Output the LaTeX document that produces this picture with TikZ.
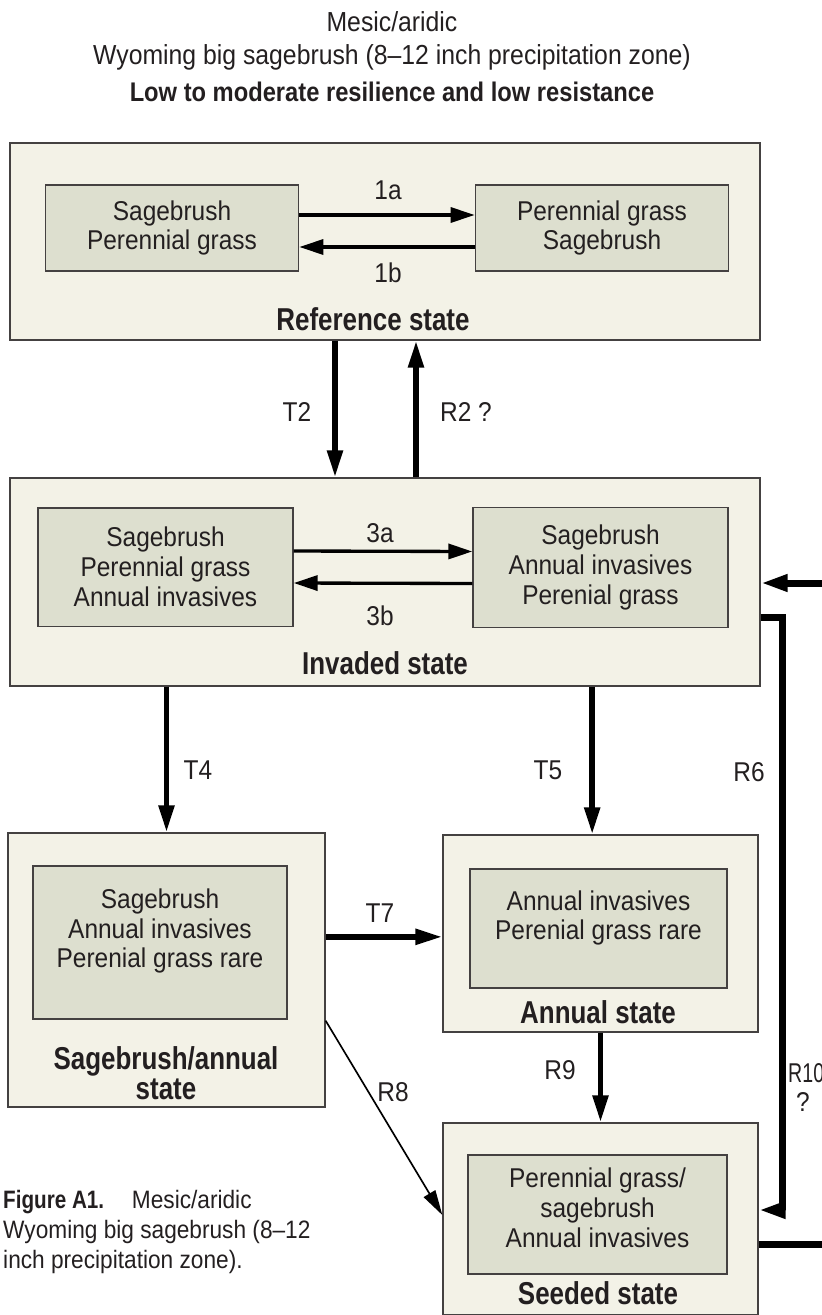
\documentclass[tikz,border=0pt]{standalone}
\usepackage{fontspec}
\setmainfont{Liberation Sans}[FakeStretch=0.9,BoldFeatures={FakeStretch=0.82}]
\newfontface\titlebold{Liberation Sans Bold}[FakeStretch=0.88]
\usetikzlibrary{arrows.meta,positioning}

\definecolor{statefill}{HTML}{F3F2E7}
\definecolor{phasefill}{HTML}{DDDFCF}
\definecolor{ink}{HTML}{231F20}

\newcommand\bodyfont{\fontsize{23.2}{25.4}\selectfont}
\newcommand\statefont{\fontsize{27}{25.6}\selectfont\bfseries}
\newcommand\capfont{\fontsize{21.5}{25.5}\selectfont}

\begin{document}
\begin{tikzpicture}[x=0.03cm, y=-0.03cm, font=\bodyfont, text=ink,
    state/.style={draw=ink!85, fill=statefill, line width=0.04cm, inner sep=0pt},
    phase/.style={draw=ink!85, fill=phasefill, line width=0.04cm, inner sep=0pt},
    body/.style={align=center, inner sep=0pt},
    statename/.style={font=\statefont, align=center, inner sep=0pt},
    lbl/.style={inner sep=0pt},
    phaseshift/.style={-{Triangle[length=0.72cm,width=0.45cm]}, line width=0.1cm},
    trans/.style={-{Triangle[length=0.81cm,width=0.45cm]}, line width=0.165cm},
    restore/.style={-{Triangle[length=0.81cm,width=0.48cm]}, line width=0.21cm},
    restoreline/.style={line width=0.21cm},
    seeding/.style={-{Triangle[length=0.75cm,width=0.4cm]}, line width=0.05cm}
]
    \useasboundingbox (0,0) rectangle (822,1315);

    % title
    \node[lbl, font=\fontsize{23.5}{26}\selectfont] (ttl1) at (392,22) {Mesic/aridic};
    \node[lbl, font=\fontsize{23.5}{26}\selectfont] (ttl2) at (392,57) {Wyoming big sagebrush (8--12 inch precipitation zone)};
    \node[lbl, font=\fontsize{23}{26}\titlebold] (ttl3) at (392,92) {Low to moderate resilience and low resistance};

    % states
    \node[state, minimum width=22.5cm, minimum height=5.91cm] (ref) at (385,241.5) {};
    \node[state, minimum width=22.5cm, minimum height=6.24cm] (inv) at (385,582) {};
    \node[state, minimum width=9.51cm, minimum height=8.22cm] (sage) at (166.5,970) {};
    \node[state, minimum width=9.45cm, minimum height=5.91cm] (ann) at (600.5,933.5) {};
    \node[state, minimum width=9.45cm, minimum height=5.76cm] (seed) at (600.5,1219) {};

    % phases
    \node[phase, body, minimum width=7.6cm, minimum height=2.58cm] (refA) at (172,228) {Sagebrush\\Perennial grass};
    \node[phase, body, minimum width=7.6cm, minimum height=2.58cm] (refB) at (602,228) {Perennial grass\\Sagebrush};
    \node[phase, body, minimum width=7.65cm, minimum height=3.55cm] (invA) at (165.5,567) {Sagebrush\\Perennial grass\\Annual invasives};
    \node[phase, body, minimum width=7.65cm, minimum height=3.6cm] (invB) at (600.5,567.5) {Sagebrush\\Annual invasives\\Perenial grass};
    \node[phase, minimum width=7.62cm, minimum height=4.59cm] (sageIn) at (160,942.5) {};
    \node[body] (sageTx) at (160,931) {Sagebrush\\Annual invasives\\Perenial grass rare};
    \node[phase, minimum width=7.71cm, minimum height=3.57cm] (annIn) at (598.5,928.5) {};
    \node[body] (annTx) at (598.5,918) {Annual invasives\\Perenial grass rare};
    \node[phase, minimum width=7.77cm, minimum height=3.57cm] (seedIn) at (597.5,1214.5) {};
    \node[body] (seedTx) at (597.5,1208) {Perennial grass/\\sagebrush\\Annual invasives};

    % state names
    \node[statename] (refN) at (373,319) {Reference state};
    \node[statename] (invN) at (385,663) {Invaded state};
    \node[statename] (sageN) at (166,1073) {Sagebrush/annual\\state};
    \node[statename] (annN) at (598,1012) {Annual state};
    \node[statename] (seedN) at (598,1293) {Seeded state};

    % community shifts
    \draw[phaseshift] ([yshift=0.39cm]refA.east) -- ([yshift=0.39cm]refB.west);
    \draw[phaseshift] ([yshift=-0.57cm]refB.west) -- ([yshift=-0.57cm]refA.east);
    \draw[phaseshift] ([yshift=0.48cm]invA.east) -- ([yshift=0.48cm]invB.west);
    \draw[phaseshift] ([yshift=-0.48cm]invB.west) -- ([yshift=-0.48cm]invA.east);

    % transitions and restoration
    \coordinate (t5) at ([xshift=-0.25cm]ann.north);
    \coordinate (t7) at ([yshift=-0.1cm]ann.west);
    \coordinate (r10) at (782,900);
    \coordinate (r6in) at (822,583);
    \coordinate (r6out) at (822,1244);

    \draw[trans] ([xshift=-1.5cm]ref.south) -- ([xshift=-1.5cm]inv.north);
    \draw[trans] ([xshift=0.93cm]inv.north) -- ([xshift=0.93cm]ref.south);
    \draw[trans] (inv.south -| sage.north) -- (sage.north);
    \draw[trans] (inv.south -| t5) -- (t5);
    \draw[trans] (sage.east |- t7) -- (t7);
    \draw[trans] (ann.south) -- (seed.north);
    \draw[seeding] ([yshift=2.61cm]sage.south east) -- ([yshift=0.12cm]seed.west);
    \draw[restore] (r6in) -- (inv.east |- r6in);
    \draw[restore] ([yshift=-1.05cm]inv.east) -| (r10) |- ([yshift=0.27cm]seed.east);
    \draw[restoreline] (seed.east |- r6out) -- (r6out);

    % labels
    \node[lbl] (l1a) at (388,190) {1a};
    \node[lbl] (l1b) at (388,273) {1b};
    \node[lbl] (lT2) at (297,412) {T2};
    \node[lbl] (lR2) at (466,412) {R2 ?};
    \node[lbl] (l3a) at (380,533) {3a};
    \node[lbl] (l3b) at (380,616) {3b};
    \node[lbl] (lT4) at (198,770) {T4};
    \node[lbl] (lT5) at (548,770) {T5};
    \node[lbl] (lR6) at (749,772) {R6};
    \node[lbl] (lT7) at (380,913) {T7};
    \node[lbl] (lR8) at (393,1092) {R8};
    \node[lbl] (lR9) at (560,1070) {R9};
    \node[lbl, anchor=west] (lR10) at (788,1073) {\scalebox{0.8}[1]{R10}};
    \node[lbl] (lR10q) at (803,1102) {?};

    % caption
    \node[anchor=west, align=left, inner sep=0pt, font=\capfont] (cap) at (3,1232)
        {\textbf{Figure A1.}\hspace{1.1em}Mesic/aridic\\Wyoming big sagebrush (8--12\\inch precipitation zone).};
\end{tikzpicture}
\end{document}
